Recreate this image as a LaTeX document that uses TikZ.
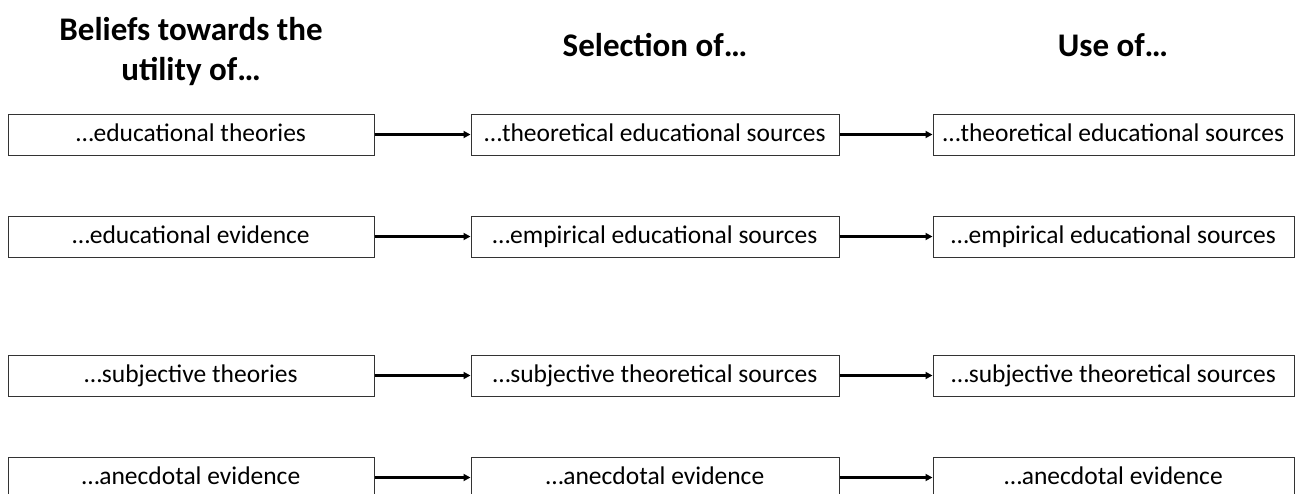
\documentclass[tikz,border=0pt]{standalone}
\usepackage{fontspec}
\setmainfont{Carlito}
\usetikzlibrary{arrows.meta}
\begin{document}
\begin{tikzpicture}[x=1pt,y=-1pt,
  box/.style={draw=black!80, line width=1pt, minimum height=41pt, inner sep=0pt,
    text height=17pt, text depth=4pt,
    font=\fontsize{25.5}{30}\selectfont},
  colA/.style={box, minimum width=366pt},
  colB/.style={box, minimum width=368pt},
  colC/.style={box, minimum width=361pt},
  link/.style={line width=2.5pt, -{Triangle[length=7pt,width=7pt]}},
  head/.style={font=\bfseries\fontsize{33}{40}\selectfont, align=center}]
\useasboundingbox (0,0) rectangle (1301,493);
\clip (0,0) rectangle (1301,493);

\node[head] (h1) at (191,52) {Beliefs towards the\\utility of…};
\node[head] (h2) at (655,45) {Selection of…};
\node[head] (h3) at (1113,45) {Use of…};

\node[colA] (a1) at (191,134.5) {…educational theories};
\node[colB] (b1) at (655,134.5) {…theoretical educational sources};
\node[colC] (c1) at (1113.5,134.5) {…theoretical educational sources};

\node[colA] (a2) at (191,236.5) {…educational evidence};
\node[colB] (b2) at (655,236.5) {…empirical educational sources};
\node[colC] (c2) at (1113.5,236.5) {…empirical educational sources};

\node[colA] (a3) at (191,375.5) {…subjective theories};
\node[colB] (b3) at (655,375.5) {…subjective theoretical sources};
\node[colC] (c3) at (1113.5,375.5) {…subjective theoretical sources};

\node[colA] (a4) at (191,477.5) {…anecdotal evidence};
\node[colB] (b4) at (655,477.5) {…anecdotal evidence};
\node[colC] (c4) at (1113.5,477.5) {…anecdotal evidence};

\foreach \r in {1,2,3,4}{
  \draw[link] (a\r) -- (b\r);
  \draw[link] (b\r) -- (c\r);
}
\end{tikzpicture}
\end{document}
